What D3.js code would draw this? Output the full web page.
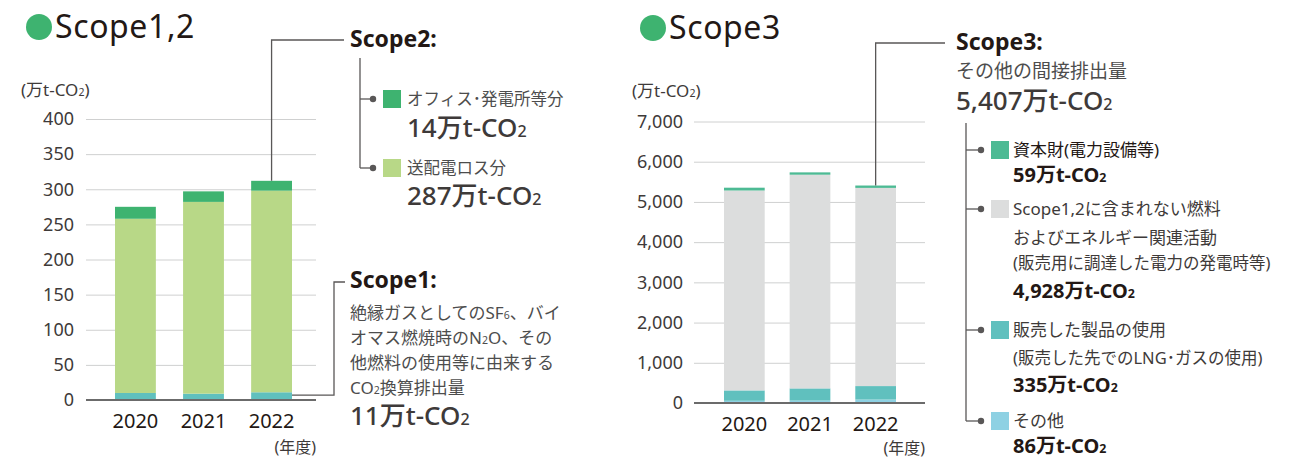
<!DOCTYPE html>
<html>
<head>
<meta charset="utf-8">
<script src="https://cdn.jsdelivr.net/npm/d3@7"></script>
<style>
  body { margin: 0; background: #fff; }
  svg text { font-family: "Noto Sans", "Noto Sans CJK JP", sans-serif; }
</style>
</head>
<body>
<div id="chart"></div>
<script>
// 年度
const years = ["2020", "2021", "2022"];

// Scope1,2 (万t-CO2)
const scope1 = [10, 9, 11];
const scope2Loss = [248, 273, 287];
const scope2Office = [17, 15, 14];
const ticks12 = [0, 50, 100, 150, 200, 250, 300, 350, 400];

// Scope3 (万t-CO2)
const s3Other = [55, 60, 86];
const s3Use = [258, 303, 335];
const s3Fuel = [4971, 5314, 4928];
const s3Capital = [70, 58, 59];
const ticks3 = [0, 1000, 2000, 3000, 4000, 5000, 6000, 7000];

const unitLabel = "(万t-CO_2)";
const yearUnit = "(年度)";

const colors12 = { s1: "#60c0be", loss: "#b8d887", office: "#3eb370" };
const colors3 = { other: "#8ed1e3", use: "#60c0be", fuel: "#dcdddd", capital: "#4dba94" };

const lineColor = "#595757";

const svg = d3.select("#chart").append("svg")
  .attr("width", 1301).attr("height", 458);

// text with "_n" subscripts
function rich(sel, str) {
  str.split(/(_\d)/).filter(s => s.length).forEach(function(s) {
    if (s[0] === "_") sel.append("tspan").attr("font-size", "0.62em").text(s.slice(1));
    else sel.append("tspan").text(s);
  });
  return sel;
}

function label(x, y, str, size, opts) {
  opts = opts || {};
  let t = svg.append("text")
    .attr("x", x).attr("y", y)
    .attr("font-size", size)
    .attr("font-weight", opts.weight || 400)
    .attr("fill", opts.fill || "#3e3a39")
    .attr("text-anchor", opts.anchor || "start");
  return rich(t, str);
}

function title(cx, cy, str) {
  svg.append("circle").attr("cx", cx).attr("cy", cy).attr("r", 13).attr("fill", "#3eb370");
  label(cx + 16, cy + 11, str, 32, { fill: "#231815" }).attr("letter-spacing", 0.6);
}

function drawChart(cfg) {
  let x = d3.scaleBand().domain(years).range(cfg.xRange).paddingInner(cfg.pad);
  let y = d3.scaleLinear().domain(cfg.domain).range(cfg.yRange);

  let grid = svg.append("g")
    .attr("transform", "translate(" + cfg.gridX[0] + ",0)")
    .call(d3.axisLeft(y).tickValues(cfg.ticks)
      .tickSize(-(cfg.gridX[1] - cfg.gridX[0]))
      .tickPadding(cfg.tickPad)
      .tickFormat(cfg.format));
  grid.select(".domain").remove();
  grid.selectAll(".tick line").attr("stroke", "#cfd0d0").attr("stroke-width", 1);
  grid.selectAll(".tick text")
    .attr("font-size", 18).attr("fill", "#3e3a39")
    .attr("font-family", "'Noto Sans', sans-serif");

  let table = years.map(function(yr, i) {
    let row = { year: yr };
    cfg.keys.forEach(function(k) { row[k] = cfg.series[k][i]; });
    return row;
  });
  let stack = d3.stack().keys(cfg.keys)(table);

  svg.append("g").selectAll("g")
    .data(stack)
    .enter().append("g")
    .attr("fill", function(d) { return cfg.colors[d.key]; })
    .selectAll("rect")
    .data(function(d) { return d; })
    .enter().append("rect")
    .attr("x", function(d) { return x(d.data.year); })
    .attr("width", x.bandwidth())
    .attr("y", function(d) { return y(d[1]); })
    .attr("height", function(d) { return y(d[0]) - y(d[1]); });

  svg.append("line")
    .attr("x1", cfg.gridX[0]).attr("x2", cfg.gridX[1])
    .attr("y1", y(0)).attr("y2", y(0))
    .attr("stroke", "#6b6b6b").attr("stroke-width", 2);

  let xa = svg.append("g")
    .attr("transform", "translate(0," + y(0) + ")")
    .call(d3.axisBottom(x).tickSize(0).tickPadding(cfg.yearPad));
  xa.select(".domain").remove();
  xa.selectAll(".tick text")
    .attr("font-size", 20).attr("fill", "#231815")
    .attr("font-family", "'Noto Sans', sans-serif");

  return { x: x, y: y, stack: stack };
}

function path(points) {
  svg.append("path")
    .attr("d", d3.line()(points))
    .attr("fill", "none").attr("stroke", lineColor).attr("stroke-width", 1.3);
}

function branch(xv, xd, yy) {
  path([[xv, yy], [xd, yy]]);
  svg.append("circle").attr("cx", xd).attr("cy", yy).attr("r", 3.2).attr("fill", lineColor);
}

function swatch(x0, yc, color) {
  svg.append("rect").attr("x", x0).attr("y", yc - 9).attr("width", 18).attr("height", 18).attr("fill", color);
}

// ---------- Scope1,2 ----------
title(39, 27, "Scope1,2");
label(21, 96, unitLabel, 17);
label(316, 453, yearUnit, 16, { anchor: "end" });

let c12 = drawChart({
  xRange: [115, 292], pad: 0.4,
  yRange: [400, 119], domain: [0, 400],
  gridX: [86, 316], tickPad: 12, yearPad: 14,
  ticks: ticks12, format: d3.format("d"),
  keys: ["s1", "loss", "office"],
  series: { s1: scope1, loss: scope2Loss, office: scope2Office },
  colors: colors12
});

let last12 = c12.stack[2][2];
let cx22 = c12.x("2022") + c12.x.bandwidth() / 2;
path([[cx22, c12.y(last12[1])], [cx22, 40], [344, 40]]);
label(350, 47, "Scope2:", 23, { weight: 700, fill: "#231815" });

path([[360, 58], [360, 168]]);
branch(360, 373, 99);
branch(360, 373, 168);
swatch(383, 99, colors12.office);
label(407, 105, "オフィス･発電所等分", 16.5, { fill: "#4d4d4d" });
label(407, 137, "14万t-CO_2", 26, { weight: 500 });
swatch(383, 168, colors12.loss);
label(407, 174, "送配電ロス分", 16.5, { fill: "#4d4d4d" });
label(407, 205, "287万t-CO_2", 26, { weight: 500 });

let s1seg = c12.stack[0][2];
let x22r = c12.x("2022") + c12.x.bandwidth();
let s1y = c12.y((s1seg[0] + s1seg[1]) / 2) - 1;
path([[x22r, s1y], [334, s1y], [334, 282], [345, 282]]);
label(350, 288, "Scope1:", 23, { weight: 700, fill: "#231815" });
["絶縁ガスとしてのSF_6、バイ", "オマス燃焼時のN_2O、その", "他燃料の使用等に由来する", "CO_2換算排出量"].forEach(function(s, i) {
  label(350, 319 + i * 25, s, 17, { fill: "#4d4d4d" });
});
label(350, 425, "11万t-CO_2", 26, { weight: 500 });

// ---------- Scope3 ----------
title(653, 28, "Scope3");
label(632, 97, unitLabel, 17);
label(925, 454, yearUnit, 16, { anchor: "end" });

let c3 = drawChart({
  xRange: [724, 896], pad: 0.38,
  yRange: [403, 121.5], domain: [0, 7000],
  gridX: [694, 925], tickPad: 11, yearPad: 14,
  ticks: ticks3, format: d3.format(","),
  keys: ["other", "use", "fuel", "capital"],
  series: { other: s3Other, use: s3Use, fuel: s3Fuel, capital: s3Capital },
  colors: colors3
});

let last3 = c3.stack[3][2];
let cx3 = c3.x("2022") + c3.x.bandwidth() / 2;
path([[cx3, c3.y(last3[1])], [cx3, 43], [945, 43]]);
label(956, 50, "Scope3:", 23, { weight: 700, fill: "#231815" });
label(956, 78, "その他の間接排出量", 19, { fill: "#4d4d4d" });
label(956, 110, "5,407万t-CO_2", 26, { weight: 500 });

path([[966, 123], [966, 421]]);
[150, 209, 330, 421].forEach(function(yy) { branch(966, 981, yy); });

swatch(991, 150, colors3.capital);
label(1013, 156, "資本財(電力設備等)", 17, { fill: "#231815" });
label(1013, 182, "59万t-CO_2", 20, { weight: 700, fill: "#231815" });

swatch(991, 209, colors3.fuel);
label(1013, 215, "Scope1,2に含まれない燃料", 17, { fill: "#3e3a39" });
label(1013, 244, "およびエネルギー関連活動", 17, { fill: "#3e3a39" });
label(1013, 269, "(販売用に調達した電力の発電時等)", 16.5, { fill: "#3e3a39" });
label(1013, 298, "4,928万t-CO_2", 20, { weight: 700, fill: "#231815" });

swatch(991, 330, colors3.use);
label(1013, 336, "販売した製品の使用", 17, { fill: "#3e3a39" });
label(1013, 364, "(販売した先でのLNG･ガスの使用)", 16.5, { fill: "#3e3a39" });
label(1013, 392, "335万t-CO_2", 20, { weight: 700, fill: "#231815" });

swatch(991, 421, colors3.other);
label(1013, 427, "その他", 17, { fill: "#3e3a39" });
label(1013, 453, "86万t-CO_2", 20, { weight: 700, fill: "#231815" });
</script>
</body>
</html>
